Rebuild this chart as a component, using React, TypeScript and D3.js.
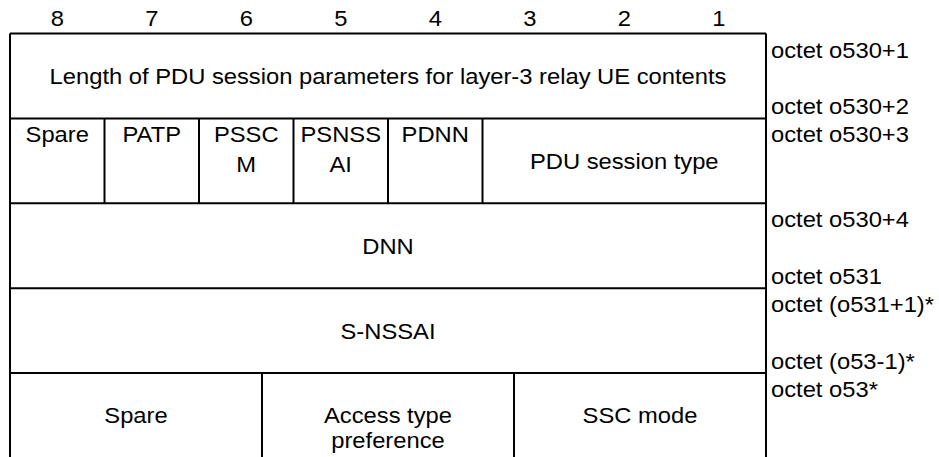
import React from "react";
import * as d3 from "d3";

const bitLabels = ["8", "7", "6", "5", "4", "3", "2", "1"];

// row boundaries (octet rows)
const rowCount = 5;

// cells: row index, bit span [fromBit (left edge), toBit (right edge)], text lines, vertical mode
const cellRows = [0, 1, 1, 1, 1, 1, 1, 2, 3, 4, 4, 4];
const cellFrom = [8, 8, 7, 6, 5, 4, 3, 8, 8, 8, 16 / 3, 8 / 3];
const cellTo = [0, 7, 6, 5, 4, 3, 0, 0, 0, 16 / 3, 8 / 3, 0];
const cellText = [
  ["Length of PDU session parameters for layer-3 relay UE contents"],
  ["Spare"],
  ["PATP"],
  ["PSSC", "M"],
  ["PSNSS", "AI"],
  ["PDNN"],
  ["PDU session type"],
  ["DNN"],
  ["S-NSSAI"],
  ["Spare"],
  ["Access type", "preference"],
  ["SSC mode"],
];
const cellAlign = ["mid", "top", "top", "top", "top", "top", "mid", "mid", "mid", "low", "low", "low"];

const octetTop = ["octet o530+1", "octet o530+3", "octet o530+4", "octet (o531+1)*", "octet o53*"];
const octetBottom = ["octet o530+2", "", "octet o531", "octet (o53-1)*", ""];

const W = 939;
const H = 457;
const FS = 22;
const SX = 1.08;
const FONT = "'Liberation Sans', Arial, sans-serif";

export default function App() {
  const x = d3.scaleLinear().domain([8, 0]).range([10, 766]);
  const y = d3.scaleLinear().domain([0, rowCount]).range([33.5, 458]);

  const txt = (key: string, tx: number, ty: number, s: string, anchor = "middle") => (
    <text
      key={key}
      transform={`translate(${tx},${ty}) scale(${SX},1)`}
      textAnchor={anchor}
      fontFamily={FONT}
      fontSize={FS}
      fill="#000"
    >
      {s}
    </text>
  );

  const lines: React.ReactNode[] = [];
  const texts: React.ReactNode[] = [];

  bitLabels.forEach((b, i) => {
    texts.push(txt("b" + i, x(8 - i - 0.5), 26, b));
  });

  // outer borders
  lines.push(<line key="top" x1={x(8)} x2={x(0)} y1={y(0)} y2={y(0)} />);
  lines.push(<line key="left" x1={x(8)} x2={x(8)} y1={y(0)} y2={y(rowCount)} />);
  lines.push(<line key="right" x1={x(0)} x2={x(0)} y1={y(0)} y2={y(rowCount)} />);
  for (let r = 1; r < rowCount; r++) {
    lines.push(<line key={"h" + r} x1={x(8)} x2={x(0)} y1={y(r)} y2={y(r)} />);
  }

  cellText.forEach((t, i) => {
    const r = cellRows[i];
    const x0 = x(cellFrom[i]);
    const x1 = x(cellTo[i]);
    if (cellFrom[i] !== 8) {
      lines.push(<line key={"v" + i} x1={x0} x2={x0} y1={y(r)} y2={y(r + 1)} />);
    }
    const cx = (x0 + x1) / 2;
    const top = y(r);
    const bot = y(r + 1);
    const mid = (top + bot) / 2;
    let base: number;
    let step: number;
    if (cellAlign[i] === "top") {
      base = top + 24;
      step = 30;
    } else if (cellAlign[i] === "low") {
      base = top + 50;
      step = 25;
    } else {
      base = mid + 8;
      step = 25;
    }
    t.forEach((s, j) => texts.push(txt("c" + i + "_" + j, cx, base + j * step, s)));
  });

  octetTop.forEach((s, r) => {
    if (s) texts.push(txt("ot" + r, x(0) + 5, y(r) + 24, s, "start"));
  });
  octetBottom.forEach((s, r) => {
    if (s) texts.push(txt("ob" + r, x(0) + 5, y(r + 1) - 4, s, "start"));
  });

  return (
    <svg
      width={W}
      height={H}
      style={{ position: "absolute", left: 0, top: 0, background: "#fff" }}
    >
      <rect width={W} height={H} fill="#fff" />
      <g stroke="#000" strokeWidth={2}>{lines}</g>
      <g>{texts}</g>
    </svg>
  );
}
